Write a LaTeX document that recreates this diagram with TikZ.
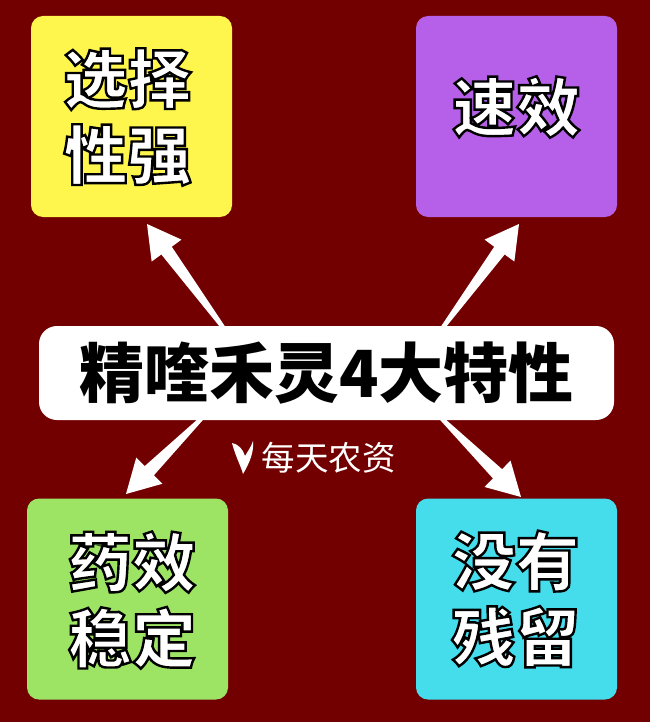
\documentclass[tikz,border=0pt]{standalone}
\usepackage{fontspec}
\usepackage{tikz}
\usetikzlibrary{calc}
\newfontfamily\cjk{Noto Sans CJK SC}
\definecolor{bgred}{HTML}{730000}
\definecolor{boxyellow}{HTML}{FFF64D}
\definecolor{boxpurple}{HTML}{B65FE8}
\definecolor{boxgreen}{HTML}{9DE464}
\definecolor{boxcyan}{HTML}{45DCEC}
\newcommand{\outl}[1]{{\color{white}\special{pdf:code q 2 Tr 2.4 w 0 0 0 RG 1 1 1 rg}#1\special{pdf:code Q}}}
\newcommand{\fatarrow}[2]{%
  \fill[white] ($(#1)!2pt!-90:(#2)$) -- ($($(#2)!33pt!(#1)$)!6.5pt!-90:(#2)$)
    -- ($($(#2)!33pt!(#1)$)!18.5pt!-90:(#2)$) -- (#2)
    -- ($($(#2)!33pt!(#1)$)!18.5pt!90:(#2)$) -- ($($(#2)!33pt!(#1)$)!6.5pt!90:(#2)$)
    -- ($(#1)!2pt!90:(#2)$) -- cycle;}
\tikzset{
  card/.style={rounded corners=12pt,minimum width=201pt,minimum height=201pt,inner sep=0pt},
  cardtext/.style={inner sep=0pt,align=center,font=\cjk\bfseries\fontsize{64}{76}\selectfont},
}
\begin{document}
\begin{tikzpicture}[x=1pt,y=-1pt]
\fill[bgred] (0,0) rectangle (650,722);
\useasboundingbox (0,0) rectangle (650,722);
% arrow ends
\coordinate (tl0) at (225,330);
\coordinate (tl1) at (147,224);
\coordinate (tr0) at (441,330);
\coordinate (tr1) at (519,224);
\coordinate (bl0) at (202,418);
\coordinate (bl1) at (126,494);
\coordinate (br0) at (441,418);
\coordinate (br1) at (521,497);
\fatarrow{tl0}{tl1}
\fatarrow{tr0}{tr1}
\fatarrow{bl0}{bl1}
\fatarrow{br0}{br1}
\node[card,fill=boxyellow] (select) at (131.5,116.5) {};
\node[card,fill=boxpurple] (fast) at (516.5,116.5) {};
\node[card,fill=boxgreen] (stable) at (127.5,599) {};
\node[card,fill=boxcyan] (clean) at (516.5,599) {};
\node[cardtext] (selecttext) at (127.5,117) {\outl{选择}\\\outl{性强}};
\node[cardtext] (fasttext) at (516.5,107) {\outl{速效}};
\node[cardtext] (stabletext) at (132,600) {\outl{药效}\\\outl{稳定}};
\node[cardtext] (cleantext) at (515.5,599) {\outl{没有}\\\outl{残留}};
\node[fill=white,rounded corners=18pt,minimum width=575pt,minimum height=94pt,inner sep=0pt,
  font=\cjk\bfseries\fontsize{65}{70}\selectfont] (title) at (326.5,373) {精喹禾灵4大特性};
\node[text=white,inner sep=0pt,font=\cjk\fontsize{33.5}{36}\selectfont] (mark) at (328.5,458) {每天农资};
\fill[white] (232,443) .. controls (238,444) and (243,449) .. (245,456)
  .. controls (248,451) and (251,447) .. (253,441)
  .. controls (254,452) and (250,462) .. (243,474)
  .. controls (241,466) and (236,458) .. cycle;
\end{tikzpicture}
\end{document}
